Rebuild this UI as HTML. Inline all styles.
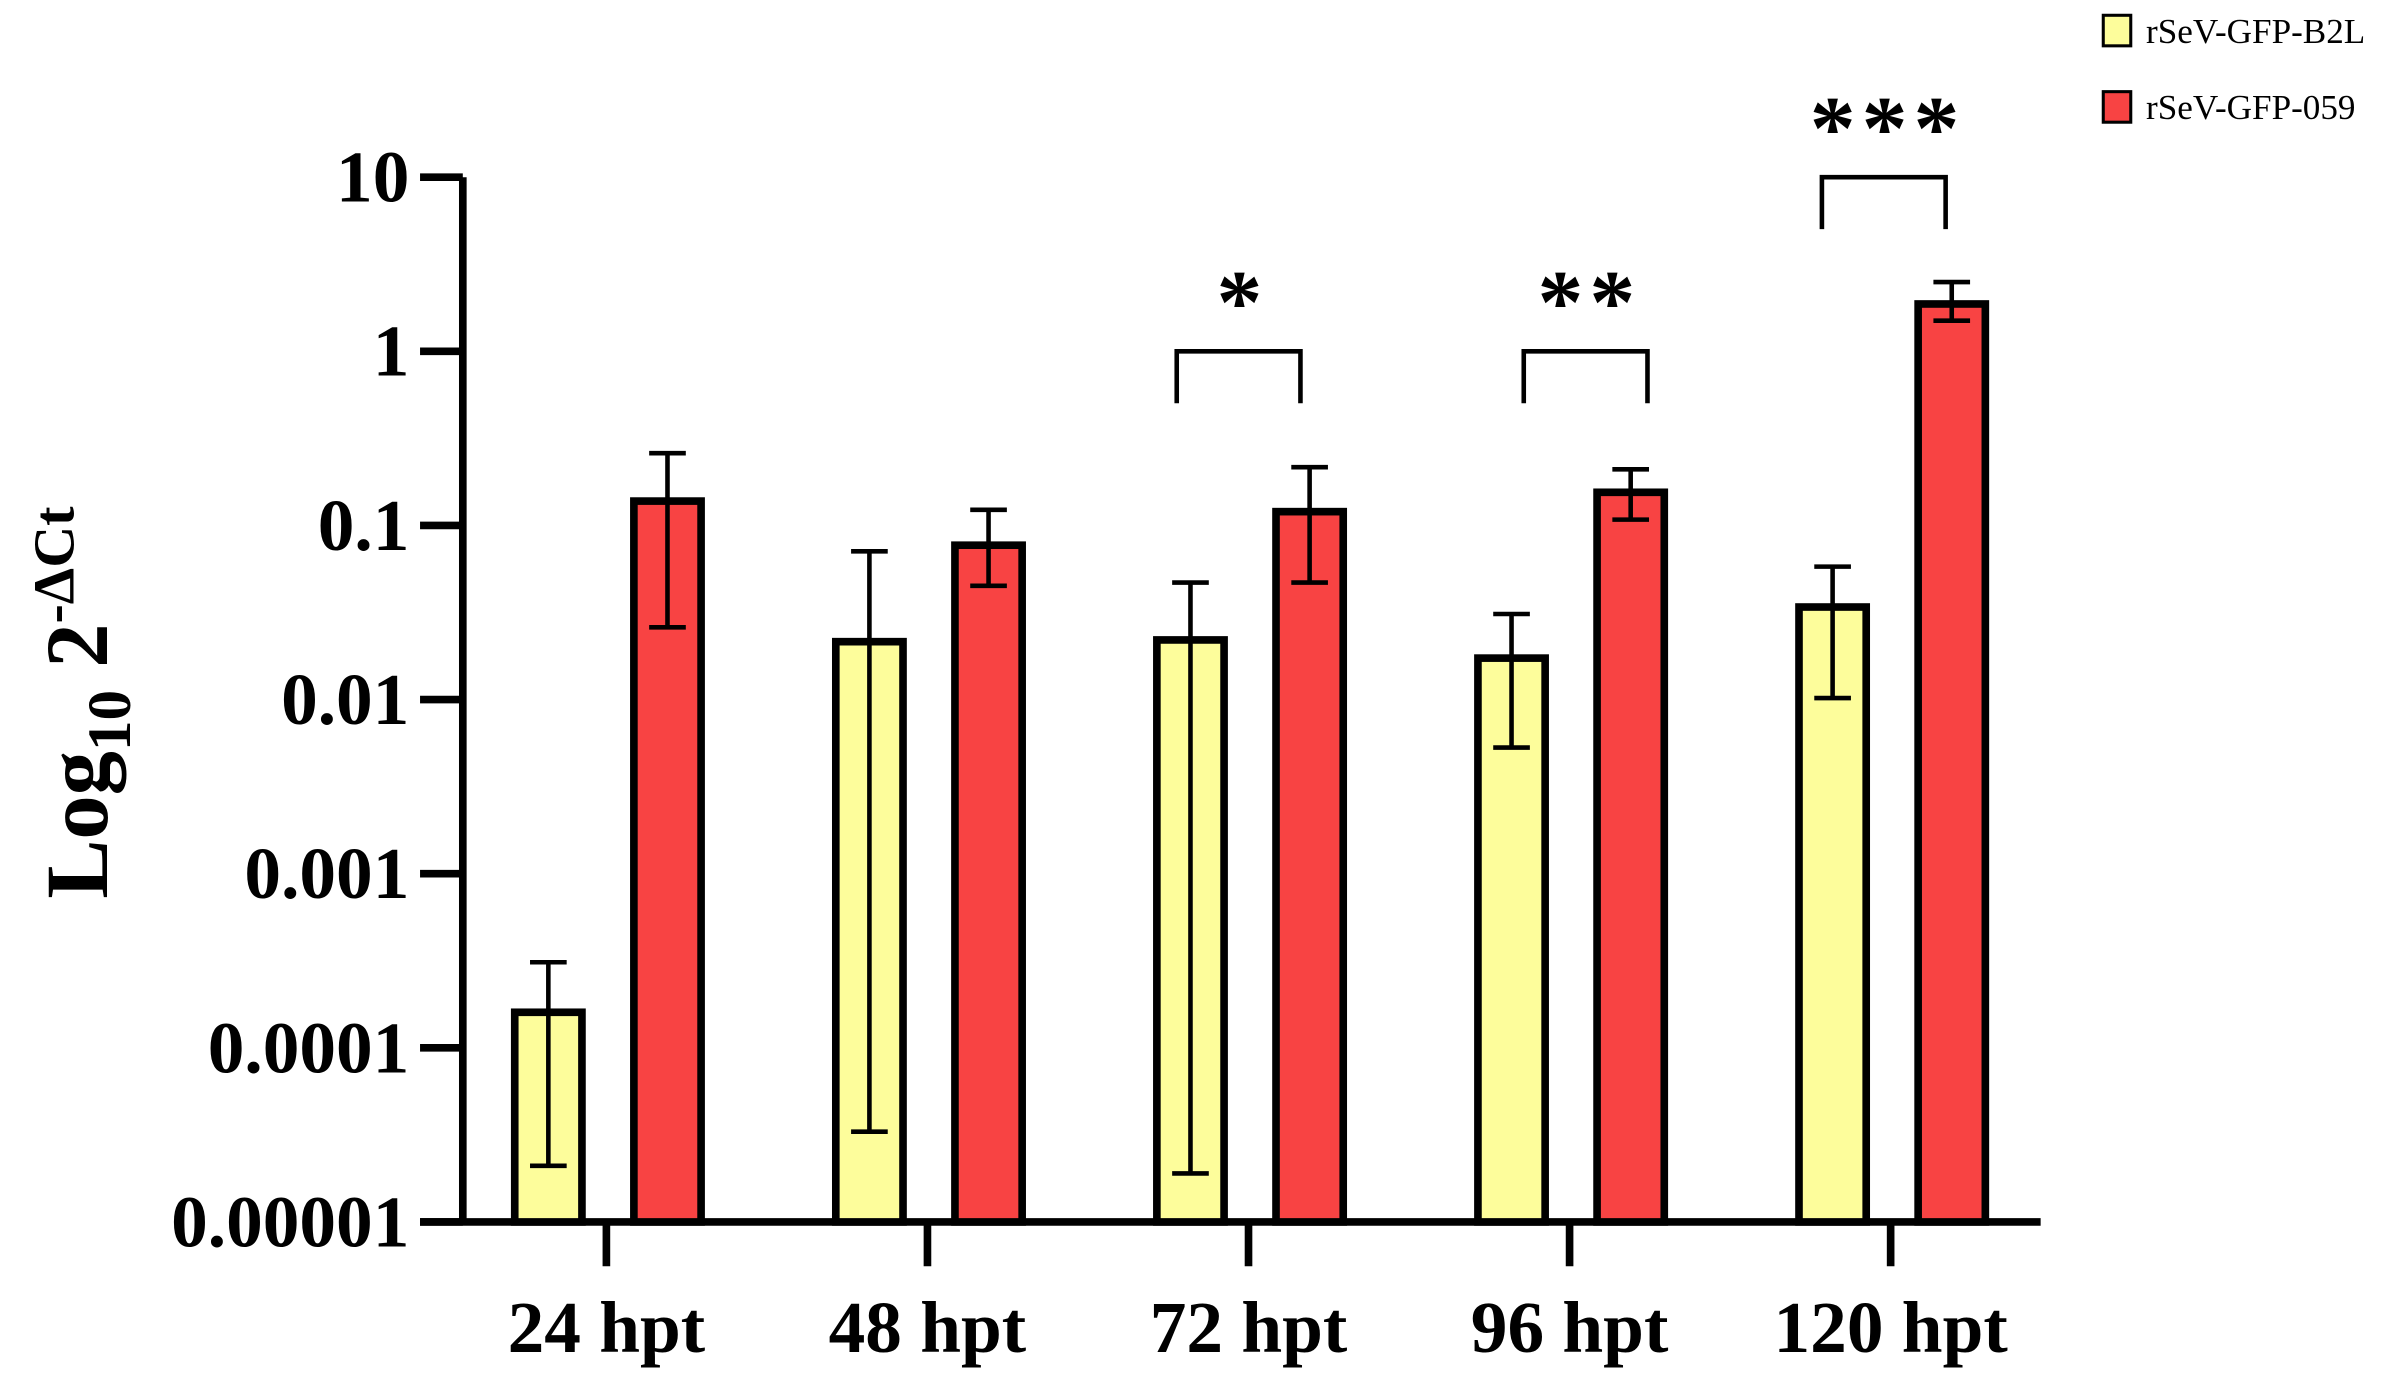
<!DOCTYPE html>
<html><head><meta charset="utf-8"><style>
html,body{margin:0;padding:0;background:#fff;}
svg{display:block;font-family:"Liberation Serif",serif;}
</style></head><body>
<svg id="chart" width="2395" height="1386" viewBox="0 0 1568 907.4" xmlns="http://www.w3.org/2000/svg">
<g id="axes"></g>
<g id="bars"></g>
<g id="sig"></g>
<text transform="translate(70,460) rotate(-90)" text-anchor="middle" font-size="58" font-weight="bold">Log<tspan font-size="40" dy="15">10</tspan><tspan dy="-15"> 2</tspan><tspan font-size="38" dy="-22">-ΔCt</tspan></text>
<g>
<rect x="1377" y="10" width="18" height="20" fill="#fdfd9b" stroke="#000" stroke-width="2"/>
<text x="1405" y="28" font-size="23">rSeV-GFP-B2L</text>
<rect x="1377" y="60" width="18" height="20" fill="#f84343" stroke="#000" stroke-width="2"/>
<text x="1405" y="78" font-size="23">rSeV-GFP-059</text>
</g>
</svg>
<script>
const categories=["24 hpt","48 hpt","72 hpt","96 hpt","120 hpt"];
const b2lMean=[0.00016,0.0215,0.022,0.0173,0.034];
const b2lUpper=[0.00031,0.071,0.047,0.031,0.058];
const b2lLower=[0.000021,0.000033,0.000019,0.0053,0.0102];
const m059Mean=[0.138,0.077,0.12,0.155,1.87];
const m059Upper=[0.26,0.123,0.216,0.21,2.5];
const m059Lower=[0.026,0.045,0.047,0.108,1.5];
const yTicks=[10,1,0.1,0.01,0.001,0.0001,0.00001];
const yTickLabels=["10","1","0.1","0.01","0.001","0.0001","0.00001"];
const sigGroups=[2,3,4];
const sigLabels=["*","**","***"];
const sigLevels=[1,1,10];
const sigShift=[-7,10,-5];

const NS="http://www.w3.org/2000/svg";
const Y0=800,DEC=114,X0=397,GAP=210.2;
function y(v){return Y0-(Math.log10(v)+5)*DEC;}
function xc(i){return X0+i*GAP;}
function mk(tag,attrs,parent){const e=document.createElementNS(NS,tag);for(const k in attrs)e.setAttribute(k,attrs[k]);parent.appendChild(e);return e;}
const axes=document.getElementById('axes'),bars=document.getElementById('bars'),sig=document.getElementById('sig');

yTicks.forEach((t,i)=>{
 const l=mk('line',{x1:275,x2:303,y1:y(t),y2:y(t),stroke:'#000','stroke-width':5},axes);
 
 
 const tx=mk('text',{x:268,y:y(t)+16,'text-anchor':'end','font-size':48,'font-weight':'bold'},axes);
 tx.textContent=yTickLabels[i];
 
 
});
categories.forEach((c,i)=>{
 const l=mk('line',{x1:xc(i),x2:xc(i),y1:Y0,y2:829,stroke:'#000','stroke-width':5},axes);
 
 
 const tx=mk('text',{x:xc(i),y:885,'text-anchor':'middle','font-size':48,'font-weight':'bold'},axes);
 tx.textContent=c;
 
 
});

function bar(cx,mean,up,lo,fill,name){
 const r=mk('rect',{x:cx-22,y:y(mean),width:44,height:Y0-y(mean),fill:fill,stroke:'#000','stroke-width':5},bars);
 
 
 const g=mk('g',{stroke:'#000','stroke-width':3},bars);
 
 
 mk('line',{x1:cx,x2:cx,y1:y(up),y2:y(lo)},g);
 mk('line',{x1:cx-12,x2:cx+12,y1:y(up),y2:y(up)},g);
 mk('line',{x1:cx-12,x2:cx+12,y1:y(lo),y2:y(lo)},g);
}
categories.forEach((c,i)=>{
 bar(xc(i)-38,b2lMean[i],b2lUpper[i],b2lLower[i],'#fdfd9b','bar-b2l');
 bar(xc(i)+40,m059Mean[i],m059Upper[i],m059Lower[i],'#f84343','bar-059');
});

const axisPath=mk('path',{d:`M303 ${y(10)} V${Y0} M275 ${Y0} H1336`,stroke:'#000','stroke-width':5,fill:'none'},axes);



sigGroups.forEach((gi,k)=>{
 const cx=xc(gi)+sigShift[k];
 const x1=cx-40,x2=cx+41,top=y(sigLevels[k]);
 const p=mk('path',{d:`M${x1} ${top+34} V${top} H${x2} V${top+34}`,stroke:'#000','stroke-width':3,fill:'none'},sig);
 
 
 const t=mk('text',{x:cx+3,y:top-12,'text-anchor':'middle','font-size':60,'font-weight':'bold','letter-spacing':4},sig);
 t.textContent=sigLabels[k];
 
 
});
</script>
</body></html>
